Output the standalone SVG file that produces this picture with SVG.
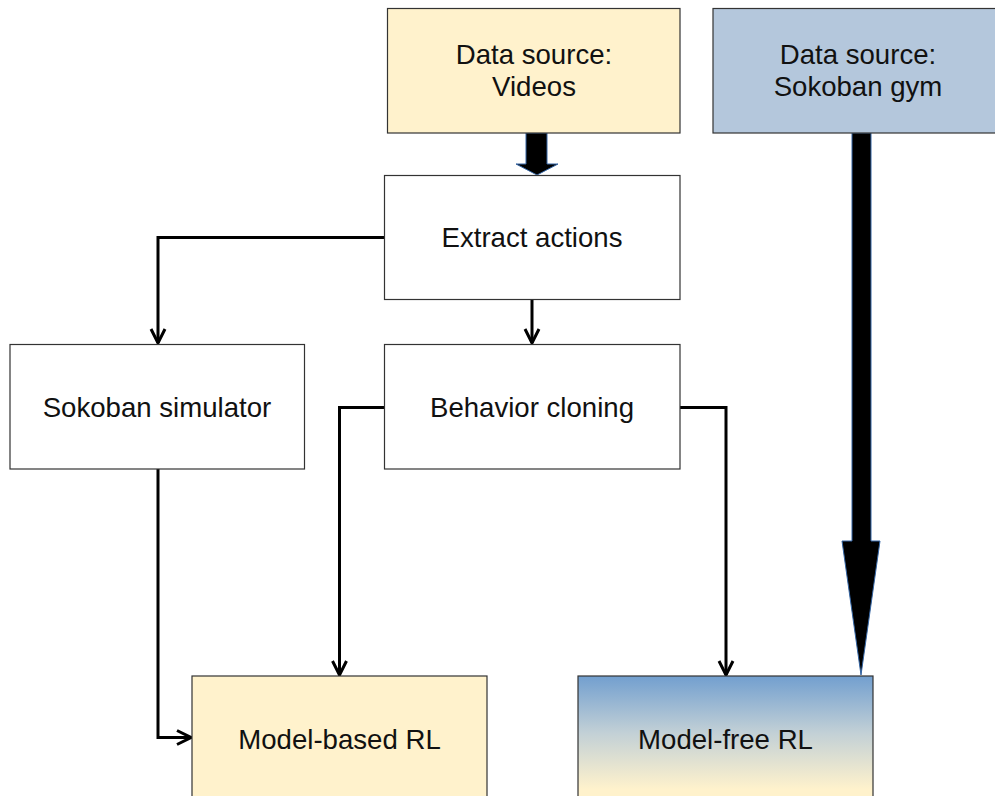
<svg xmlns="http://www.w3.org/2000/svg" width="995" height="796" viewBox="0 0 995 796">
  <defs>
    <linearGradient id="gradFree" x1="0" y1="0" x2="0" y2="1">
      <stop offset="0" stop-color="#729fcf"/>
      <stop offset="0.45" stop-color="#c2d0d6"/>
      <stop offset="0.9" stop-color="#fff2cc"/>
    </linearGradient>
    <marker id="open" viewBox="0 0 20 20" refX="18" refY="10" markerWidth="20" markerHeight="20" markerUnits="userSpaceOnUse" orient="auto">
      <path d="M4,3 L18,10 L4,17" fill="none" stroke="#000" stroke-width="3"/>
    </marker>
    <style>
      .box { stroke: #333333; stroke-width: 1.2; }
      .white { fill: #ffffff; }
      .yellow { fill: #fff2cc; }
      .blue { fill: #b4c7dc; }
      .lbl { font-family: "Liberation Sans", Arial, sans-serif; font-size: 27.6px; fill: #111111; text-anchor: middle; }
      .conn { fill: none; stroke: #000000; stroke-width: 3; marker-end: url(#open); }
      .fat { fill: #000000; stroke: #3465a4; stroke-width: 1; stroke-linejoin: miter; }
    </style>
  </defs>

  <g id="connectors">
    <path class="conn" d="M384,237.5 L158,237.5 L158,343"/>
    <path class="conn" d="M532,299 L532,343"/>
    <path class="conn" d="M384,407.5 L339.5,407.5 L339.5,675"/>
    <path class="conn" d="M680,407.5 L726,407.5 L726,675"/>
    <path class="conn" d="M158,469 L158,737.5 L191,737.5"/>
    <path class="fat" d="M526,133 L547,133 L547,164 L558,164 L537,175 L516,164 L526,164 Z"/>
    <path class="fat" d="M852,133 L871,133 L871,541 L880,541 L861,675 L842,541 L852,541 Z"/>
  </g>

  <g id="node-videos">
    <rect class="box yellow" x="387.5" y="8.5" width="292.5" height="124.5"/>
    <text class="lbl" x="534" y="63.5">Data source:</text>
    <text class="lbl" x="534" y="96">Videos</text>
  </g>

  <g id="node-gym">
    <rect class="box blue" x="713" y="8.5" width="292" height="124.5"/>
    <text class="lbl" x="858" y="63.5">Data source:</text>
    <text class="lbl" x="858" y="96">Sokoban gym</text>
  </g>

  <g id="node-extract">
    <rect class="box white" x="384.5" y="175.5" width="295.5" height="124"/>
    <text class="lbl" x="532" y="247">Extract actions</text>
  </g>

  <g id="node-simulator">
    <rect class="box white" x="10" y="344.5" width="294.5" height="124.5"/>
    <text class="lbl" x="157" y="416.5">Sokoban simulator</text>
  </g>

  <g id="node-cloning">
    <rect class="box white" x="384.5" y="344.5" width="295.5" height="124.5"/>
    <text class="lbl" x="532" y="416.5">Behavior cloning</text>
  </g>

  <g id="node-model-based">
    <rect class="box yellow" x="192" y="676" width="295" height="130"/>
    <text class="lbl" x="339.5" y="748.5">Model-based RL</text>
  </g>

  <g id="node-model-free">
    <rect class="box" fill="url(#gradFree)" x="578" y="676" width="295" height="126"/>
    <text class="lbl" x="725.5" y="748.5">Model-free RL</text>
  </g>
</svg>
